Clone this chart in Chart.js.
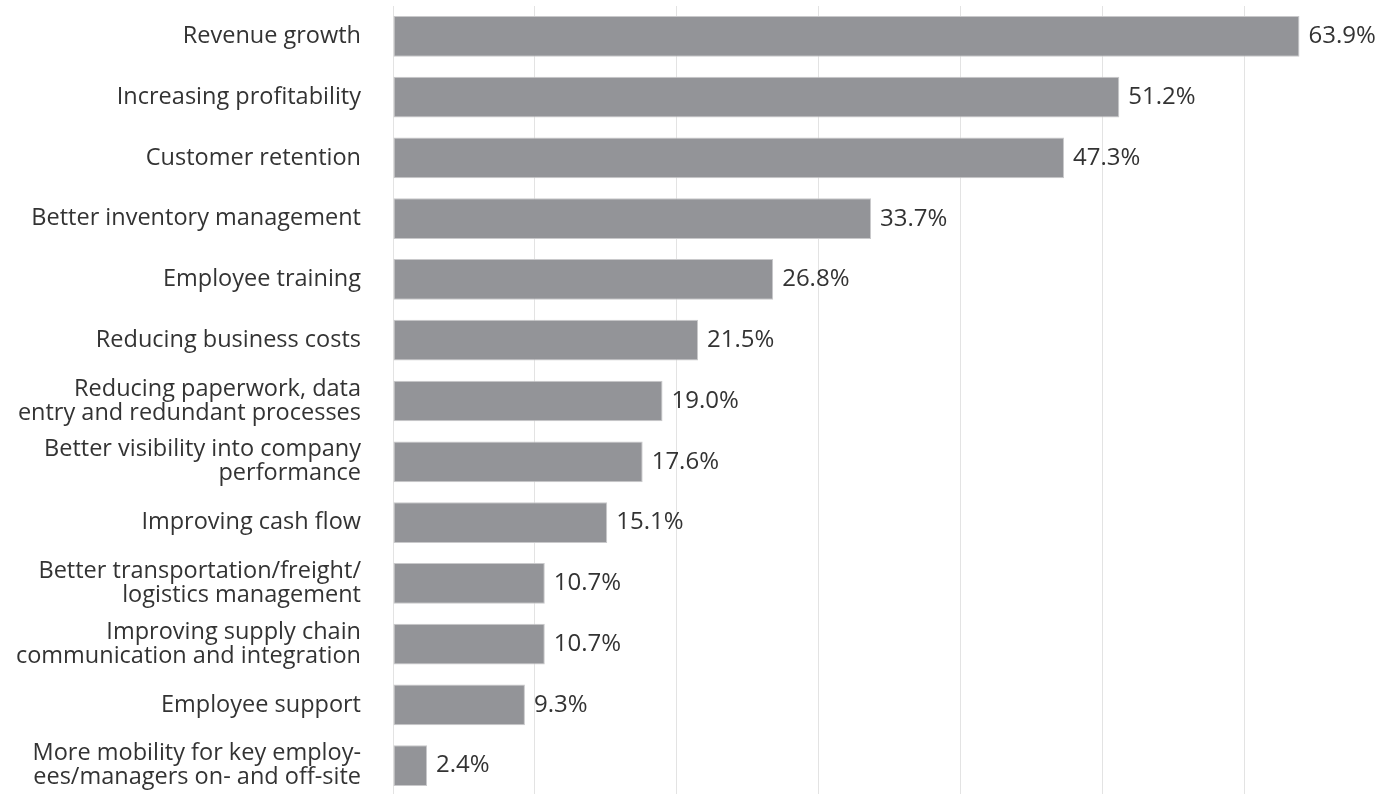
<!DOCTYPE html>
<html>
<head>
<meta charset="utf-8">
<script src="https://cdn.jsdelivr.net/npm/chart.js@4/dist/chart.umd.min.js"></script>
<style>
  html, body { margin: 0; padding: 0; background: #ffffff; overflow: hidden; }
  #wrap { position: relative; width: 1400px; height: 796px; }
</style>
</head>
<body>
<div id="wrap"><canvas id="chart"></canvas></div>
<script>
// Business priorities, share of respondents (%)
const categories = [
  "Revenue growth",
  "Increasing profitability",
  "Customer retention",
  "Better inventory management",
  "Employee training",
  "Reducing business costs",
  ["Reducing paperwork, data", "entry and redundant processes"],
  ["Better visibility into company", "performance"],
  "Improving cash flow",
  ["Better transportation/freight/", "logistics management"],
  ["Improving supply chain", "communication and integration"],
  "Employee support",
  ["More mobility for key employ-", "ees/managers on- and off-site"]
];
const shares = [63.9, 51.2, 47.3, 33.7, 26.8, 21.5, 19.0, 17.6, 15.1, 10.7, 10.7, 9.3, 2.4];
const axisMax = 70;
const gridStep = 10;

const FONT = "'Open Sans', Lato, sans-serif";
const TEXT = "#333333";

// Writes the percentage just past the end of each bar
const valueLabels = {
  id: "valueLabels",
  afterDatasetsDraw(chart) {
    const ctx = chart.ctx;
    const meta = chart.getDatasetMeta(0);
    ctx.save();
    ctx.font = "24px " + FONT;
    ctx.fillStyle = TEXT;
    ctx.textAlign = "left";
    ctx.textBaseline = "middle";
    meta.data.forEach((bar, i) => {
      ctx.fillText(shares[i].toFixed(1) + "%", bar.x + 9, bar.y);
    });
    ctx.restore();
  }
};

new Chart(document.getElementById("chart"), {
  type: "bar",
  data: {
    labels: categories,
    datasets: [{
      data: shares,
      backgroundColor: "#939498",
      borderColor: "#c9c9cb",
      borderWidth: 1,
      borderSkipped: false,
      categoryPercentage: 1,
      barPercentage: 0.67
    }]
  },
  options: {
    indexAxis: "y",
    responsive: true,
    maintainAspectRatio: false,
    animation: false,
    layout: { padding: { top: 6, right: 14, bottom: 0, left: 0 } },
    plugins: { legend: { display: false }, tooltip: { enabled: false } },
    scales: {
      x: {
        min: 0,
        max: axisMax,
        ticks: { display: false, stepSize: gridStep },
        border: { display: false },
        grid: {
          drawTicks: false,
          lineWidth: 1,
          color: (c) => (c.tick && c.tick.value >= axisMax) ? "rgba(0,0,0,0)" : "#e3e3e3"
        }
      },
      y: {
        border: { display: false },
        grid: { display: false, drawTicks: false },
        ticks: {
          color: TEXT,
          padding: 32,
          font: { family: FONT, size: 23.5, lineHeight: 1.02 }
        },
        afterFit(scale) {
          scale.width = 393;
          scale.paddingTop = 0;
          scale.paddingBottom = 0;
        }
      }
    }
  },
  plugins: [valueLabels]
});
</script>
</body>
</html>
